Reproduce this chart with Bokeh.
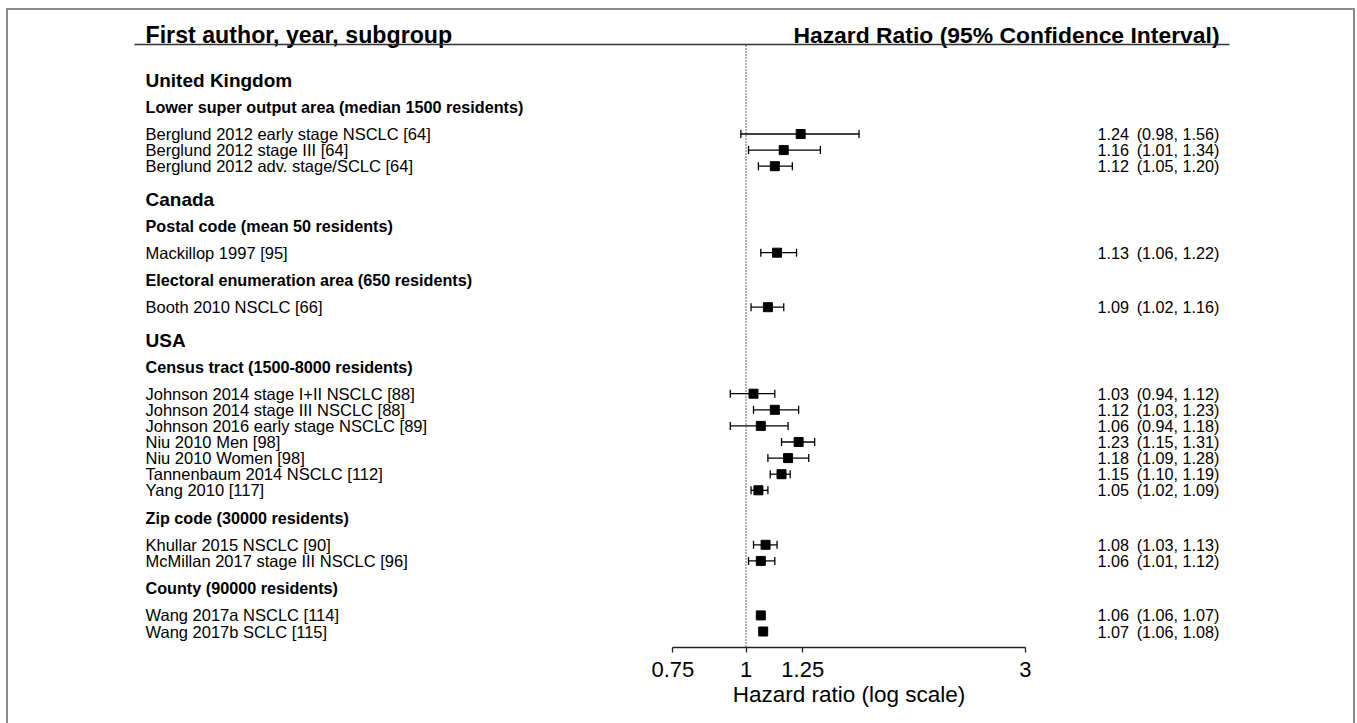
import math
from bokeh.plotting import figure
from bokeh.models import Range1d, FixedTicker, CustomJSTickFormatter, ColumnDataSource, Title
from bokeh.core.properties import value
from bokeh.embed import file_html
from bokeh.resources import INLINE

# ---------------- data ----------------
header_left = "First author, year, subgroup"
header_right = "Hazard Ratio (95% Confidence Interval)"
x_label = "Hazard ratio (log scale)"
x_ticks = [0.75, 1, 1.25, 3]
ref_hr = 1

countries = ["United Kingdom", "Canada", "USA"]
subgroups = [
    "Lower super output area (median 1500 residents)",
    "Postal code (mean 50 residents)",
    "Electoral enumeration area (650 residents)",
    "Census tract (1500-8000 residents)",
    "Zip code (30000 residents)",
    "County (90000 residents)",
]
subgroup_country = [0, 1, 1, 2, 2, 2]
studies = [
    "Berglund 2012 early stage NSCLC [64]",
    "Berglund 2012 stage III [64]",
    "Berglund 2012 adv. stage/SCLC [64]",
    "Mackillop 1997 [95]",
    "Booth 2010 NSCLC [66]",
    "Johnson 2014 stage I+II NSCLC [88]",
    "Johnson 2014 stage III NSCLC [88]",
    "Johnson 2016 early stage NSCLC [89]",
    "Niu 2010 Men [98]",
    "Niu 2010 Women [98]",
    "Tannenbaum 2014 NSCLC [112]",
    "Yang 2010 [117]",
    "Khullar 2015 NSCLC [90]",
    "McMillan 2017 stage III NSCLC [96]",
    "Wang 2017a NSCLC [114]",
    "Wang 2017b SCLC [115]",
]
study_subgroup = [0, 0, 0, 1, 2, 3, 3, 3, 3, 3, 3, 3, 4, 4, 5, 5]
hr = [1.24, 1.16, 1.12, 1.13, 1.09, 1.03, 1.12, 1.06, 1.23, 1.18, 1.15, 1.05, 1.08, 1.06, 1.06, 1.07]
ci_low = [0.98, 1.01, 1.05, 1.06, 1.02, 0.94, 1.03, 0.94, 1.15, 1.09, 1.10, 1.02, 1.03, 1.01, 1.06, 1.06]
ci_high = [1.56, 1.34, 1.20, 1.22, 1.16, 1.12, 1.23, 1.18, 1.31, 1.28, 1.19, 1.09, 1.13, 1.12, 1.07, 1.08]

# ---------------- layout ----------------
W, H = 1357, 723
FRAME_BOTTOM = 647
PX_ONE = 745.5
PX_PER_LN = 254.2
FONT = "Liberation Sans"


def px2x(px):
    return math.exp((px - PX_ONE) / PX_PER_LN)


def x2px(x):
    return PX_ONE + PX_PER_LN * math.log(x)


LEFT_PX = 145
VAL_LEFT_PX = 1097
VAL_RIGHT_PX = 1219
XLABEL_SIZE = 22.5
XLABEL_WIDTH_EM = 10.34  # width of the axis title in em (Liberation Sans)

# compute row positions (pixel y from top)
country_y, sub_y, study_y = [None] * len(countries), [None] * len(subgroups), [None] * len(studies)
y = 80.0
prev = None
for ci in range(len(countries)):
    if prev is not None:
        y += 33
    country_y[ci] = y
    prev = "country"
    for si in [k for k, c in enumerate(subgroup_country) if c == ci]:
        y += 26.5 if prev == "country" else 27.5
        sub_y[si] = y
        prev = "sub"
        for ti in [k for k, s in enumerate(study_subgroup) if s == si]:
            y += 27 if prev == "sub" else 16.1
            study_y[ti] = y
            prev = "study"

p = figure(
    width=W, height=H, x_axis_type="log",
    x_range=Range1d(px2x(0), px2x(W)), y_range=Range1d(FRAME_BOTTOM, 0),
    output_backend="svg", toolbar_location=None, y_axis_location=None,
    min_border=0,
)
p.min_border_left = 0
p.min_border_right = 0
p.min_border_top = 0
p.min_border_bottom = H - FRAME_BOTTOM
p.grid.visible = False
p.outline_line_color = None
p.background_fill_color = None
p.border_fill_color = None

# outer frame around the whole picture (left, right, top edges)
p.styles = {
    "box-shadow": ", ".join([
        "inset 6px 0 0 0 white",
        "inset -2px 0 0 0 white",
        "inset 0 8px 0 0 white",
        "inset 8px 0 0 0 #8a8a8a",
        "inset -4px 0 0 0 #8a8a8a",
        "inset 0 10px 0 0 #8a8a8a",
    ]),
    "background-color": "white",
}

ax = p.xaxis[0]
ax.ticker = FixedTicker(ticks=x_ticks, minor_ticks=[])
ax.bounds = (min(x_ticks), max(x_ticks))
ax.formatter = CustomJSTickFormatter(code="return tick.toString();")
ax.major_label_text_font = FONT
ax.major_label_text_font_size = "22px"
ax.major_label_text_color = "black"
ax.major_label_standoff = 9
ax.major_tick_in = 0
ax.major_tick_out = 5
ax.minor_tick_line_color = None
ax.axis_line_color = "#222222"
ax.major_tick_line_color = "#222222"
ax.axis_line_width = 1.3
ax.major_tick_line_width = 1.3

# axis title, centred under the axis bounds
mid_px = (x2px(min(x_ticks)) + x2px(max(x_ticks))) / 2
p.add_layout(Title(text=x_label, align="left", offset=mid_px - XLABEL_SIZE * XLABEL_WIDTH_EM / 2,
                   text_font=FONT, text_font_size=f"{XLABEL_SIZE}px", text_font_style="normal",
                   text_color="black", standoff=0), "below")

# header
p.text(x=[px2x(LEFT_PX)], y=[34], text=[header_left], text_font=value(FONT), text_font_size="23.2px",
       text_font_style="bold", text_baseline="middle", text_align="left", text_color="black")
p.text(x=[px2x(VAL_RIGHT_PX)], y=[34], text=[header_right], text_font=value(FONT), text_font_size="22.9px",
       text_font_style="bold", text_baseline="middle", text_align="right", text_color="black")
p.segment(x0=[px2x(134)], y0=[44], x1=[px2x(1229)], y1=[44], line_color="#333333", line_width=1.6)

# reference line
p.segment(x0=[ref_hr], y0=[45], x1=[ref_hr], y1=[FRAME_BOTTOM], line_color="#333333",
          line_width=1.5, line_dash="1 2")

# labels
p.text(x=[px2x(LEFT_PX)] * len(countries), y=country_y, text=countries, text_font=value(FONT),
       text_font_size="19px", text_font_style="bold", text_baseline="middle", text_color="black")
p.text(x=[px2x(LEFT_PX)] * len(subgroups), y=sub_y, text=subgroups, text_font=value(FONT),
       text_font_size="16.2px", text_font_style="bold", text_baseline="middle", text_color="black")
p.text(x=[px2x(LEFT_PX)] * len(studies), y=study_y, text=studies, text_font=value(FONT),
       text_font_size="16.5px", text_baseline="middle", text_color="black")

# values
src = ColumnDataSource(dict(
    y=study_y, hr=hr, lo=ci_low, hi=ci_high,
    y0=[v - 4 for v in study_y], y1=[v + 4 for v in study_y],
    hr_txt=[f"{v:.2f}" for v in hr],
    ci_txt=[f"({a:.2f}, {b:.2f})" for a, b in zip(ci_low, ci_high)],
    vx=[px2x(VAL_LEFT_PX)] * len(studies), vx2=[px2x(VAL_RIGHT_PX)] * len(studies),
))
p.text(x="vx", y="y", text="hr_txt", source=src, text_font=value(FONT), text_font_size="16.2px",
       text_baseline="middle", text_align="left", text_color="black")
p.text(x="vx2", y="y", text="ci_txt", source=src, text_font=value(FONT), text_font_size="16.2px",
       text_baseline="middle", text_align="right", text_color="black")

# CIs
p.segment(x0="lo", y0="y", x1="hi", y1="y", source=src, line_color="black", line_width=1.3)
p.segment(x0="lo", y0="y0", x1="lo", y1="y1", source=src, line_color="black", line_width=1.3)
p.segment(x0="hi", y0="y0", x1="hi", y1="y1", source=src, line_color="black", line_width=1.3)
p.scatter(x="hr", y="y", source=src, marker="square", size=9, fill_color="black", line_color="black")

open("out.html", "w").write(file_html(p, INLINE))
